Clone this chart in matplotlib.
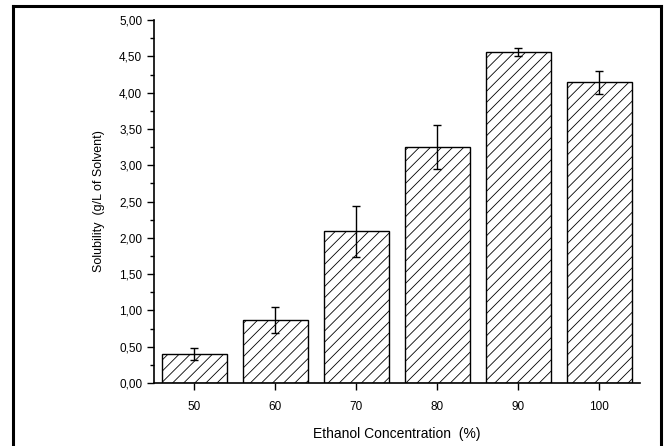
import matplotlib
matplotlib.use("Agg")
import matplotlib.pyplot as plt
from matplotlib.lines import Line2D
from matplotlib.ticker import MultipleLocator, FuncFormatter

plt.rcParams['font.family'] = ['Liberation Sans', 'DejaVu Sans']
plt.rcParams['hatch.linewidth'] = 0.6

# data
concentration = ['50', '60', '70', '80', '90', '100']
solubility = [0.40, 0.87, 2.09, 3.25, 4.56, 4.14]
err = [0.08, 0.18, 0.35, 0.30, 0.05, 0.16]

fig = plt.figure(figsize=(6.65, 4.46), dpi=100)
ax = fig.add_axes([0.2316, 0.1413, 0.7304, 0.8137])

pos = range(len(concentration))
ax.bar(pos, solubility, width=0.8, color='white', edgecolor='black',
       linewidth=1.0, hatch='///')
ax.errorbar(pos, solubility, yerr=err, fmt='none', ecolor='black',
            elinewidth=1.0, capsize=3, capthick=1.0)

ax.set_xlim(-0.5, 5.5)
ax.set_ylim(0, 5)
ax.set_xticks(list(pos))
ax.set_xticklabels(concentration)
ax.yaxis.set_major_locator(MultipleLocator(0.5))
ax.yaxis.set_minor_locator(MultipleLocator(0.25))
ax.yaxis.set_major_formatter(FuncFormatter(lambda v, p: f"{v:.2f}".replace('.', ',')))

for s in ['top', 'right']:
    ax.spines[s].set_visible(False)
for s in ['left', 'bottom']:
    ax.spines[s].set_linewidth(1.2)
ax.tick_params(axis='both', which='major', direction='out', length=5,
               width=1.0, labelsize=8.5, colors='black')
ax.tick_params(axis='y', which='minor', direction='out', length=3, width=1.0)
ax.tick_params(axis='x', pad=8)

ax.set_xlabel('Ethanol Concentration  (%)', fontsize=10, labelpad=10)
ax.set_ylabel('Solubility  (g/L of Solvent)', fontsize=9, labelpad=10)

# outer frame around the figure (open at bottom)
for xs, ys in [([0.0195, 0.0195], [0.0, 0.9865]),
               ([0.0195, 0.994], [0.9865, 0.9865]),
               ([0.994, 0.994], [0.0, 0.9865])]:
    fig.add_artist(Line2D(xs, ys, color='black', linewidth=2.2,
                          transform=fig.transFigure))

fig.savefig('out.png', dpi=100)
